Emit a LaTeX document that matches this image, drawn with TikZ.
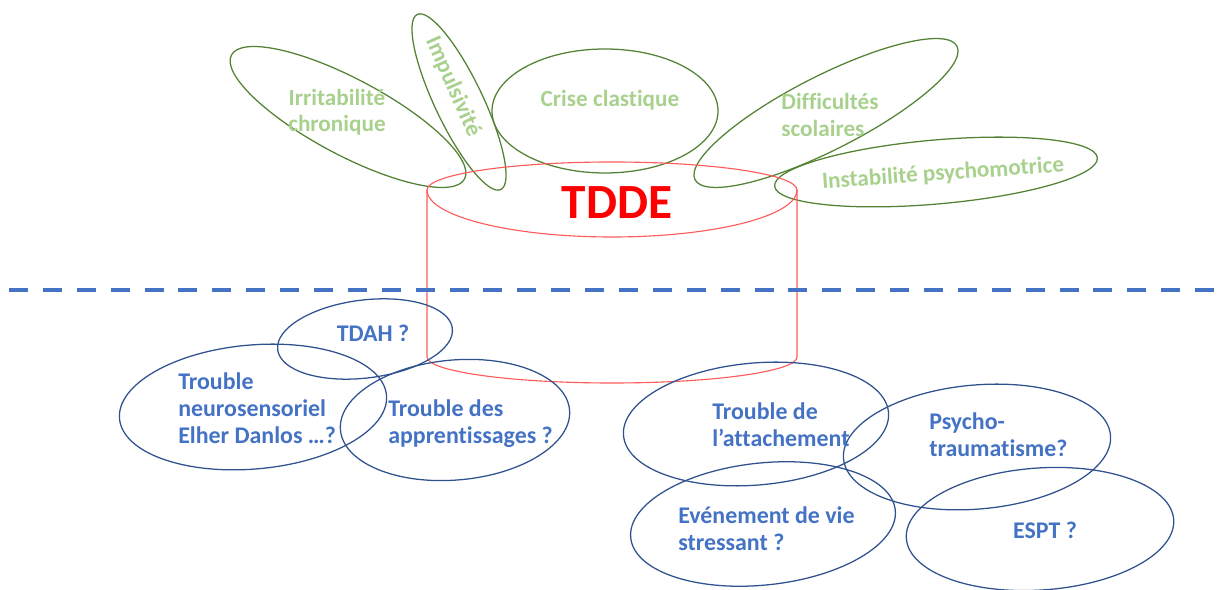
\documentclass[tikz,border=0pt]{standalone}
\usepackage{fontspec}
\setmainfont{Carlito}[Ligatures=NoCommon]
\definecolor{leafgreen}{HTML}{548235}
\definecolor{leaflight}{HTML}{A9D18E}
\definecolor{causeblue}{HTML}{2F528F}
\definecolor{textblue}{HTML}{4472C4}
\definecolor{cylred}{HTML}{FF5B5B}

\begin{document}
\begin{tikzpicture}[x=0.025cm, y=0.025cm,
    leaf/.style={draw=leafgreen, line width=0.9pt},
    cause/.style={draw=causeblue, line width=0.9pt},
    cyl/.style={draw=cylred, line width=0.8pt},
    leaftext/.style={text=leaflight, font=\fontsize{16.5}{18.9}\selectfont\bfseries, align=center, inner sep=0pt},
    causetext/.style={text=textblue, font=\fontsize{17}{19}\selectfont\bfseries, align=left, inner sep=0pt}]
    \useasboundingbox (0,0) rectangle (1220,590);

    % symptomes
    \draw[leaf, rotate around={-28:(348,473)}] (348,473) ellipse [x radius=132, y radius=38];
    \draw[leaf, rotate around={-64.5:(459,488)}] (459,488) ellipse [x radius=97, y radius=24];
    \draw[leaf] (605,479) ellipse [x radius=113, y radius=62];
    \draw[leaf, rotate around={27:(826,477)}] (826,477) ellipse [x radius=147, y radius=37];
    \draw[leaf, rotate around={5:(936,418)}] (936,418) ellipse [x radius=162, y radius=32];
    \node[leaftext] (irr) at (337,478) {Irritabilité\\chronique};
    \node[leaftext, rotate=-66] (imp) at (453,503) {Impulsivité};
    \node[leaftext] (crise) at (610,490) {Crise clastique};
    \node[leaftext, align=left] (diff) at (830,475) {Difficultés\\scolaires};
    \node[leaftext, rotate=4] (inst) at (943,416) {Instabilité psychomotrice};

    % TDDE
    \draw[cyl] (427,400) arc[start angle=180, end angle=0, x radius=185, y radius=28]
        arc[start angle=0, end angle=-180, x radius=185, y radius=47];
    \draw[cyl] (427,400) -- (427,233) arc[start angle=180, end angle=360, x radius=185, y radius=26] -- (797,400);
    \node[text=red, font=\fontsize{35}{40}\selectfont\bfseries, inner sep=0pt] (tdde) at (617,387) {TDDE};

    \draw[draw=textblue, line width=3.5pt, dash pattern=on 13.5pt off 10.6pt] (9,300) -- (1220,300);

    % causes
    \draw[cause, rotate around={7:(365,251)}] (365,251) ellipse [x radius=88, y radius=39];
    \draw[cause, rotate around={5:(253,183)}] (253,183) ellipse [x radius=134, y radius=62];
    \draw[cause, rotate around={5:(455,170)}] (455,170) ellipse [x radius=115, y radius=60];
    \draw[cause, rotate around={5:(756,166)}] (756,166) ellipse [x radius=133, y radius=61];
    \draw[cause, rotate around={5:(977,143)}] (977,143) ellipse [x radius=134, y radius=62];
    \draw[cause, rotate around={6:(763,66)}] (763,66) ellipse [x radius=133, y radius=61];
    \draw[cause, rotate around={4:(1040,61)}] (1040,61) ellipse [x radius=134, y radius=61];
    \node[causetext] (tdah) at (373,257) {TDAH ?};
    \node[causetext, anchor=west] (neuro) at (178,182) {Trouble\\neurosensoriel\\Elher Danlos …?};
    \node[causetext, anchor=west] (appr) at (388,166) {Trouble des\\apprentissages ?};
    \node[causetext, anchor=west] (attach) at (712,165) {Trouble de\\l’attachement};
    \node[causetext, anchor=west] (psy) at (929,155) {Psycho-\\traumatisme?};
    \node[causetext, anchor=west] (event) at (678,61) {Evénement de vie\\stressant ?};
    \node[causetext] (espt) at (1045,60) {ESPT ?};
\end{tikzpicture}
\end{document}
